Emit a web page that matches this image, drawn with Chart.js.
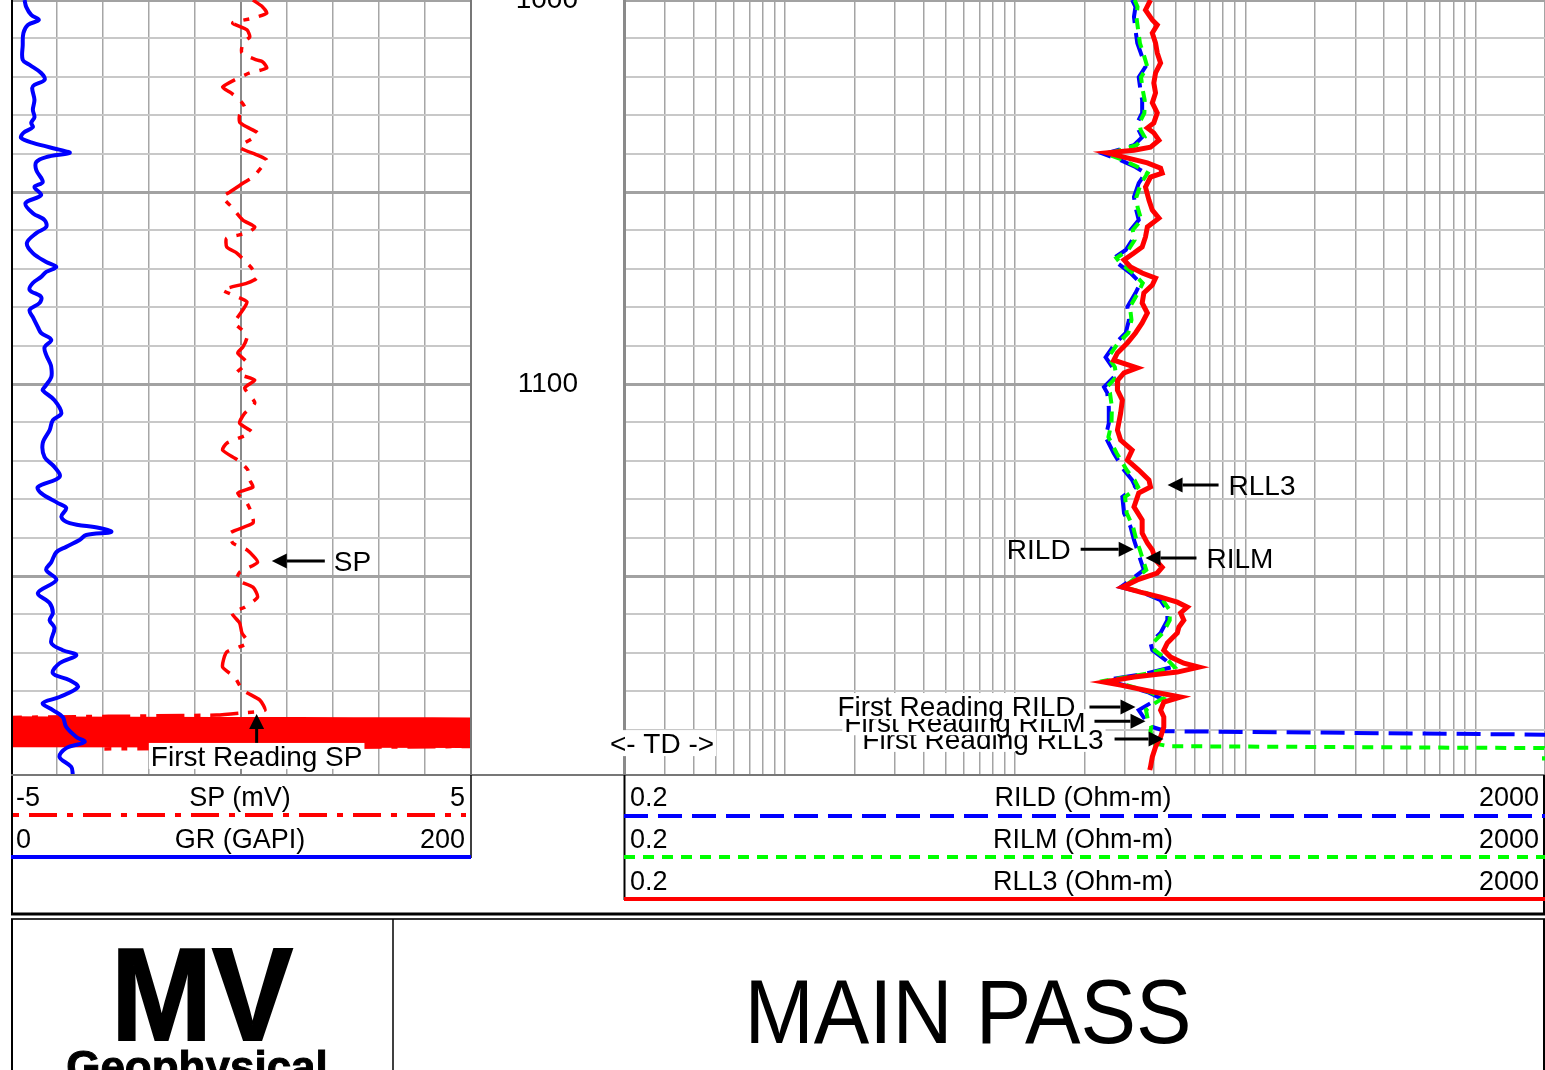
<!DOCTYPE html>
<html>
<head>
<meta charset="utf-8">
<title>MAIN PASS</title>
<script src="https://cdn.jsdelivr.net/npm/chart.js@4.4.1/dist/chart.umd.min.js"></script>
<style>
  html, body { margin: 0; padding: 0; background: #fff; }
  #page { position: relative; width: 1545px; height: 1070px; overflow: hidden; background: #fff; }
  canvas { position: absolute; top: 0; }
  #frame { position: absolute; left: 0; top: 0; pointer-events: none; }
</style>
</head>
<body>
<div id="page">
  <canvas id="leftTrack" width="460" height="775" style="left:11px"></canvas>
  <canvas id="rightTrack" width="1074" height="775" style="left:471px"></canvas>

  <svg id="frame" width="1545" height="1070" xmlns="http://www.w3.org/2000/svg"
       font-family="'Liberation Sans', Arial, sans-serif" fill="#000">
    <!-- track frame -->
    <line x1="12" y1="0" x2="12" y2="915" stroke="#000" stroke-width="2"/>
    <line x1="471" y1="0" x2="471" y2="775" stroke="#777" stroke-width="2"/>
    <line x1="11" y1="775" x2="1545" y2="775" stroke="#777" stroke-width="2"/>

    <!-- curve legends, left track -->
    <line x1="471" y1="775" x2="471" y2="858" stroke="#000" stroke-width="1.5"/>
    <text x="16" y="805.5" font-size="27">-5</text>
    <text x="240" y="805.5" font-size="27" text-anchor="middle">SP (mV)</text>
    <text x="465" y="805.5" font-size="27" text-anchor="end">5</text>
    <line x1="13" y1="815" x2="466" y2="815" stroke="#ff0000" stroke-width="4" stroke-dasharray="6 10 28 10"/>
    <text x="16" y="847.5" font-size="27">0</text>
    <text x="240" y="847.5" font-size="27" text-anchor="middle">GR (GAPI)</text>
    <text x="465" y="847.5" font-size="27" text-anchor="end">200</text>
    <line x1="11" y1="857" x2="471" y2="857" stroke="#0000ff" stroke-width="4"/>

    <!-- curve legends, right track -->
    <line x1="624.5" y1="775" x2="624.5" y2="900" stroke="#000" stroke-width="2"/>
    <line x1="1544" y1="775" x2="1544" y2="915" stroke="#000" stroke-width="2"/>
    <text x="630" y="805.5" font-size="27">0.2</text>
    <text x="1083" y="805.5" font-size="27" text-anchor="middle">RILD (Ohm-m)</text>
    <text x="1539" y="805.5" font-size="27" text-anchor="end">2000</text>
    <line x1="624" y1="816" x2="1545" y2="816" stroke="#0000ff" stroke-width="4" stroke-dasharray="24 10"/>
    <text x="630" y="847.5" font-size="27">0.2</text>
    <text x="1083" y="847.5" font-size="27" text-anchor="middle">RILM (Ohm-m)</text>
    <text x="1539" y="847.5" font-size="27" text-anchor="end">2000</text>
    <line x1="624" y1="857" x2="1545" y2="857" stroke="#00ff00" stroke-width="4" stroke-dasharray="11 8"/>
    <text x="630" y="889.5" font-size="27">0.2</text>
    <text x="1083" y="889.5" font-size="27" text-anchor="middle">RLL3 (Ohm-m)</text>
    <text x="1539" y="889.5" font-size="27" text-anchor="end">2000</text>
    <line x1="624" y1="899" x2="1545" y2="899" stroke="#ff0000" stroke-width="4"/>

    <line x1="11" y1="914" x2="1545" y2="914" stroke="#000" stroke-width="3"/>

    <!-- title block -->
    <line x1="11" y1="919" x2="1545" y2="919" stroke="#333" stroke-width="2"/>
    <line x1="12" y1="919" x2="12" y2="1070" stroke="#000" stroke-width="2"/>
    <line x1="393" y1="919" x2="393" y2="1070" stroke="#000" stroke-width="1.5"/>
    <line x1="1544" y1="919" x2="1544" y2="1070" stroke="#000" stroke-width="2"/>
    <text x="202" y="1040" font-size="132" font-weight="bold" text-anchor="middle"
          stroke="#000" stroke-width="2"
          transform="translate(202 0) scale(0.92 1) translate(-202 0)">MV</text>
    <text x="197" y="1082" font-size="44" font-weight="bold" text-anchor="middle"
          stroke="#000" stroke-width="1">Geophysical</text>
    <text x="968" y="1043" font-size="90" text-anchor="middle"
          transform="translate(968 0) scale(0.925 1) translate(-968 0)">MAIN PASS</text>
  </svg>
</div>

<script>
// ---------------- depth window ----------------
const depthTop = 1000;
const depthBottom = 1201.8;
const depthLabels = [1000, 1100, 1200];
const tdDepth = 1193.5;

// ---------------- GR (GAPI), track 1 ----------------
const grDepth = [
  1000.0,1001.8,1003.9,1005.2,1006.5,1008.6,1011.7,1015.6,1016.9,1019.0,
  1020.8,1022.1,1022.9,1026.0,1028.6,1030.5,1032.0,1033.1,1034.6,1035.9,
  1037.2,1039.1,1039.8,1040.9,1042.2,1044.3,1047.4,1048.7,1050.8,1052.9,
  1055.5,1057.3,1059.1,1060.7,1063.3,1065.9,1068.2,1069.5,1070.8,1072.1,
  1073.7,1075.5,1077.3,1078.9,1080.7,1082.6,1085.2,1086.7,1088.5,1090.4,
  1092.4,1094.3,1095.6,1098.2,1100.8,1101.6,1104.2,1107.6,1109.4,1112.0,
  1115.4,1119.0,1121.6,1124.2,1126.8,1128.4,1131.0,1132.3,1134.6,1136.2,
  1137.5,1138.5,1139.3,1140.6,1142.4,1143.8,1146.4,1148.4,1151.0,1154.4,
  1157.0,1159.6,1161.5,1163.5,1167.4,1169.3,1170.6,1172.7,1175.3,1177.1,
  1178.9,1181.5,1183.1,1184.9,1186.7,1189.3,1191.9,1193.2,1194.8,1197.1,
  1199.7,1201.8
];
const grValue = [
  5.9,6.6,8.8,12.1,7.3,5.4,5.1,5.1,8.1,13.1,
  14.6,10.2,9.2,10.2,9.5,10.2,8.8,9.5,5.4,4.4,
  9.5,21.9,25.5,15.3,11.0,11.0,13.8,10.2,13.1,6.3,
  9.5,14.6,15.3,11.0,6.9,9.5,15.3,19.7,15.3,13.1,
  9.5,8.1,13.1,12.4,8.1,9.5,11.7,13.1,17.5,14.6,
  15.3,16.8,17.5,17.5,14.6,13.8,18.9,21.9,18.2,16.8,
  13.8,14.6,18.9,21.1,11.7,13.1,20.4,24.0,21.9,25.5,
  38.5,43.6,32.7,29.8,24.0,19.7,17.5,15.3,19.7,11.7,
  16.8,18.2,16.8,18.9,17.5,22.5,28.4,21.1,18.2,25.5,
  29.1,21.1,13.8,18.2,22.5,24.0,28.4,32.0,24.0,21.1,
  26.2,26.9
];

// ---------------- SP (mV), track 1 (noisy swing below first reading) ----------------
const spDepth = [
  1000.0,1001.8,1003.4,1004.7,1006.0,1007.8,1009.6,1011.2,1013.8,1015.6,
  1016.1,1017.7,1019.0,1020.8,1022.7,1024.0,1026.0,1027.9,1029.9,1031.8,
  1033.1,1034.6,1035.9,1038.3,1040.4,1041.7,1043.5,1046.1,1047.7,1050.0,
  1051.3,1053.9,1057.3,1059.1,1060.7,1062.0,1064.3,1065.9,1068.5,1069.8,
  1072.4,1073.7,1075.5,1076.8,1078.6,1080.7,1084.1,1085.9,1087.8,1090.4,
  1091.9,1094.5,1097.1,1099.0,1101.0,1104.9,1107.6,1110.2,1112.5,1115.4,
  1117.2,1119.8,1122.4,1125.0,1126.8,1128.4,1131.0,1133.6,1136.2,1138.8,
  1141.4,1143.2,1146.4,1149.0,1151.0,1152.9,1155.5,1158.1,1159.6,1162.2,
  1164.8,1167.4,1169.8,1173.7,1176.3,1179.7,1182.3,1184.9,1185.7,1186.2,
  1186.9,1187.3,1187.7,1188.1,1188.5,1188.9,1189.3,1189.7,1190.1,1190.5,
  1190.9,1191.3,1191.7,1192.1,1192.5,1192.9,1193.3,1193.7,1194.1,1194.3,
  1195.0
];
const spValue = [
  0.26,0.47,0.56,0.26,-0.18,0.13,0.19,0.04,0.02,0.34,
  0.47,0.56,0.19,-0.14,-0.40,-0.24,-0.03,0.08,-0.03,-0.03,
  0.13,0.36,0.26,-0.03,0.36,0.56,0.45,0.26,0.04,-0.24,
  -0.40,-0.20,0.04,0.30,0.13,-0.31,-0.31,-0.09,0.13,0.23,
  0.34,0.13,-0.40,-0.18,0.13,0.04,-0.14,0.02,0.13,0.04,
  -0.07,0.13,-0.09,0.30,0.08,0.30,0.08,-0.03,0.23,-0.31,
  -0.40,-0.07,0.15,0.19,0.26,-0.07,0.13,0.23,0.26,-0.24,
  -0.18,0.13,0.36,-0.03,-0.09,0.26,0.36,0.08,-0.20,-0.03,
  0.02,0.15,-0.31,-0.40,-0.14,0.04,0.41,0.52,-0.03,-0.53,
  -5.4,5.4,-5.4,5.4,-5.4,5.4,-5.4,5.4,-5.4,5.4,
  -5.4,5.4,-5.4,5.4,-5.4,5.4,-5.4,5.4,-5.4,5.4,
  -2.97
];

// ---------------- resistivity (Ohm-m), track 2 ----------------
const rll3Depth = [
  1000.0,1002.6,1005.2,1006.5,1008.6,1011.2,1013.8,1016.4,1019.0,1021.6,
  1024.2,1026.8,1029.4,1032.0,1033.3,1034.6,1036.5,1038.3,1039.1,1039.8,
  1040.9,1042.4,1043.8,1045.1,1046.1,1048.7,1052.1,1054.7,1056.8,1059.1,
  1061.7,1064.3,1065.9,1067.7,1069.5,1071.1,1072.4,1074.2,1076.3,1078.9,
  1081.5,1084.1,1086.7,1089.3,1091.9,1093.8,1095.8,1097.1,1099.0,1101.6,
  1104.2,1107.6,1112.0,1114.6,1117.2,1119.8,1122.4,1125.0,1126.8,1128.4,
  1132.0,1135.4,1138.8,1141.4,1143.2,1145.8,1147.7,1149.2,1151.0,1152.9,
  1154.2,1155.5,1156.8,1158.1,1159.6,1161.5,1163.3,1164.8,1167.4,1169.3,
  1171.1,1172.7,1173.7,1175.0,1176.3,1177.6,1178.4,1180.2,1181.5,1182.8,
  1184.9,1186.7,1189.3,1191.9,1194.5,1197.1,1199.7,1200.5
];
const rll3Value = [
  38.7,36.8,39.4,41.4,39.4,40.7,41.4,42.8,40.7,40.0,
  40.7,39.4,41.4,40.0,37.5,40.0,42.1,38.7,32.8,25.1,
  29.7,37.5,42.8,43.5,38.7,36.8,38.1,39.4,42.1,37.5,
  36.8,35.6,32.8,29.7,31.7,35.6,40.7,39.4,36.2,35.6,
  37.5,35.6,33.3,30.7,27.8,26.8,33.9,29.7,27.9,27.8,
  29.2,28.7,27.8,28.7,32.2,30.7,34.4,38.1,38.7,34.4,
  32.8,35.6,35.6,37.5,39.4,40.7,43.5,41.4,33.9,29.2,
  35.0,42.8,50.6,55.9,52.3,54.0,51.4,50.6,45.8,44.2,
  47.3,54.0,62.8,50.6,32.8,24.3,28.7,40.0,52.3,44.2,
  42.8,44.2,44.2,42.8,40.7,39.4,38.7,38.4
];

const rildDepth = [
  1000.0,1001.8,1004.4,1007.8,1011.2,1014.8,1017.4,1020.1,1023.4,1026.0,
  1029.4,1032.0,1033.9,1035.7,1037.8,1039.1,1040.1,1041.7,1043.5,1045.1,
  1047.7,1051.3,1053.9,1057.3,1059.9,1062.5,1065.1,1067.2,1068.5,1071.1,
  1073.7,1076.3,1079.9,1083.3,1086.7,1089.3,1093.0,1095.6,1098.2,1100.8,
  1102.3,1106.0,1110.2,1113.8,1118.0,1122.4,1125.0,1126.8,1129.4,1133.6,
  1137.2,1140.6,1143.2,1145.8,1148.4,1151.0,1152.9,1154.4,1156.3,1158.9,
  1161.5,1164.8,1167.4,1169.3,1171.9,1173.7,1175.3,1177.1,1178.4,1180.2,
  1181.8,1183.1,1184.9,1187.5,1189.3,1190.4,1191.3
];
const rildValue = [
  32.2,33.3,32.8,33.3,33.9,35.6,36.8,34.4,35.0,35.6,
  35.6,33.9,34.4,35.6,32.8,27.8,24.3,28.7,33.3,36.8,
  34.4,32.8,33.3,34.4,31.7,32.2,30.2,26.8,27.8,31.7,
  35.0,33.3,30.7,31.2,30.2,27.3,24.7,26.4,26.8,24.3,
  25.1,25.5,25.5,24.7,26.8,29.7,32.2,33.3,29.2,29.7,
  31.7,32.8,33.9,35.0,36.2,31.7,28.7,36.2,42.8,45.8,
  45.8,42.8,38.7,39.4,45.0,48.1,37.5,24.7,29.7,37.5,
  42.8,38.7,34.4,36.8,39.4,45.0,2100
];

const rilmDepth = [
  1000.0,1001.8,1004.4,1007.8,1011.2,1014.8,1017.4,1020.1,1023.4,1026.0,
  1029.4,1032.0,1033.9,1035.7,1037.8,1039.1,1040.1,1041.7,1043.5,1045.1,
  1047.7,1051.3,1053.9,1057.3,1059.9,1062.5,1065.1,1067.2,1068.5,1071.1,
  1073.7,1076.3,1079.9,1083.3,1086.7,1089.3,1093.0,1095.6,1098.2,1100.8,
  1102.3,1106.0,1110.2,1113.8,1118.0,1122.4,1125.0,1126.8,1129.4,1133.6,
  1137.2,1140.6,1143.2,1145.8,1148.4,1151.0,1152.9,1154.4,1156.3,1158.9,
  1161.5,1164.8,1167.4,1169.3,1171.9,1173.7,1175.3,1177.1,1178.4,1180.2,
  1181.8,1183.1,1184.9,1187.5,1189.3,1190.3,1193.5,1194.3,1194.8,1198.0
];
const rilmValue = [
  33.0,34.0,33.6,34.2,34.8,36.4,37.5,35.2,35.8,36.5,
  36.4,34.6,35.1,36.5,33.6,28.6,25.1,29.5,34.1,37.6,
  35.2,33.6,34.0,35.3,32.4,33.0,31.0,27.5,28.6,32.5,
  35.8,34.1,31.5,32.0,31.0,28.0,25.4,27.1,27.5,25.0,
  25.8,26.3,26.2,25.4,27.6,30.5,33.0,34.2,30.0,30.5,
  32.5,33.6,34.8,35.9,37.1,32.5,29.5,37.0,43.8,46.9,
  46.9,43.8,39.6,40.3,46.0,49.2,38.4,25.4,30.5,38.4,
  43.8,40.5,37.0,37.7,39.0,38.7,39.4,46.5,1980,1980
];

// ---------------- log grid: decades x multipliers ----------------
const resDecades = [0.1, 1, 10, 100, 1000];
const resMultipliers = [1, 2, 3, 4, 5, 6, 7, 8, 9];

// ---------------- curve call-outs ----------------
const track1Notes = [
  { text: 'SP', value: 0.67, depth: 1146.1, len: 53, gap: 9 },
  { text: 'First Reading SP', value: 0.34, depth: 1185.9, len: 29, vertical: true, dy: 42, box: true }
];
const track2Notes = [
  { text: 'RLL3', value: 45.9, depth: 1126.3, len: 51, gap: 10 },
  { text: 'RILD', value: 32.7, depth: 1143.0, len: -53, gap: 10 },
  { text: 'RILM', value: 36.8, depth: 1145.3, len: 51, gap: 10 },
  { text: 'First Reading RLL3', value: 44.1, depth: 1192.4, len: -49, gap: 11, box: true, dy: 0 },
  { text: 'First Reading RILM', value: 36.8, depth: 1187.8, len: -51, gap: 9, box: true, dy: 1 },
  { text: 'First Reading RILD', value: 33.3, depth: 1184.1, len: -46, gap: 14, box: true, dy: -1 }
];

// ================= drawing =================
const FONT = '"Liberation Sans", Arial, sans-serif';
Chart.defaults.font.family = FONT;

const pts = (d, v) => d.map((y, i) => ({ x: v[i], y }));
const resGrid = [];
resDecades.forEach(dec => resMultipliers.forEach(m => {
  const v = +(dec * m).toPrecision(3);
  if (v >= 0.2 && v <= 2000) resGrid.push(v);
}));

const isMajorDepth = v => Math.abs(v % 50) < 1e-6;
const depthAxis = (extra) => Object.assign({
  type: 'linear',
  reverse: true,
  min: depthTop,
  max: depthBottom,
  ticks: { stepSize: 10, display: false, autoSkip: false },
  grid: {
    drawTicks: false,
    color: c => (c.tick && isMajorDepth(c.tick.value)) ? '#a2a2a2' : '#c8c8c8',
    lineWidth: c => (c.tick && isMajorDepth(c.tick.value)) ? 3 : 2
  },
  border: { display: false },
  afterFit: s => { s.width = 0; s.paddingTop = 0; s.paddingBottom = 0; }
}, extra || {});

function drawArrow(ctx, tx, ty, fx, fy) {
  const a = Math.atan2(ty - fy, tx - fx);
  const hl = 15, hw = 7.5;
  const bx = tx - hl * Math.cos(a), by = ty - hl * Math.sin(a);
  ctx.beginPath();
  ctx.moveTo(fx, fy);
  ctx.lineTo(bx, by);
  ctx.lineWidth = 3;
  ctx.strokeStyle = '#000';
  ctx.stroke();
  ctx.beginPath();
  ctx.moveTo(tx, ty);
  ctx.lineTo(bx - hw * Math.sin(a), by + hw * Math.cos(a));
  ctx.lineTo(bx + hw * Math.sin(a), by - hw * Math.cos(a));
  ctx.closePath();
  ctx.fillStyle = '#000';
  ctx.fill();
}

function labelAt(ctx, text, x, yc, align, box) {
  ctx.font = '28px ' + FONT;
  ctx.textAlign = align;
  ctx.textBaseline = 'alphabetic';
  const w = ctx.measureText(text).width;
  const left = align === 'left' ? x : align === 'right' ? x - w : x - w / 2;
  if (box) {
    ctx.fillStyle = '#fff';
    ctx.fillRect(left - 2, yc - 13, w + 4, 26);
  }
  ctx.fillStyle = '#000';
  ctx.fillText(text, x, yc + 10);
}

function calloutPlugin(notes, xId, extra) {
  return {
    id: 'callouts',
    afterDraw(chart) {
      const ctx = chart.ctx;
      const xs = chart.scales[xId], ys = chart.scales.y;
      ctx.save();
      notes.forEach(n => {
        const tx = xs.getPixelForValue(n.value);
        const ty = ys.getPixelForValue(n.depth);
        if (n.vertical) {
          drawArrow(ctx, tx, ty, tx, ty + n.len);
          labelAt(ctx, n.text, tx, ty + n.dy, 'center', n.box);
        } else {
          const fx = tx + n.len;
          drawArrow(ctx, tx, ty, fx, ty);
          const dir = Math.sign(n.len);
          labelAt(ctx, n.text, fx + dir * n.gap, ty + (n.dy || 0), dir > 0 ? 'left' : 'right', n.box);
        }
      });
      if (extra) extra(chart, ctx);
      ctx.restore();
    }
  };
}

// ---- track 1: SP / GR ----
new Chart(document.getElementById('leftTrack'), {
  type: 'scatter',
  data: {
    datasets: [
      {
        label: 'GR', data: pts(grDepth, grValue), xAxisID: 'xgr',
        showLine: true, borderColor: '#0000ff', borderWidth: 4, tension: 0.35,
        pointRadius: 0, pointHoverRadius: 0
      },
      {
        label: 'SP', data: pts(spDepth, spValue), xAxisID: 'x',
        showLine: true, borderColor: '#ff0000', borderWidth: 3.5, tension: 0.2,
        borderDash: [28, 10, 6, 10], pointRadius: 0, pointHoverRadius: 0,
        segment: {
          borderDash: c => (Math.abs(c.p0.parsed.x) > 5 && Math.abs(c.p1.parsed.x) > 5) ? [] : undefined
        }
      }
    ]
  },
  options: {
    responsive: false, devicePixelRatio: 1, animation: false,
    layout: { padding: 0 },
    plugins: { legend: { display: false }, tooltip: { enabled: false } },
    scales: {
      x: {
        type: 'linear', position: 'bottom', min: -5, max: 5,
        ticks: { stepSize: 1, display: false },
        grid: {
          drawTicks: false,
          color: c => (c.tick && c.tick.value === 0) ? '#8a8a8a' : '#a6a6a6',
          lineWidth: c => (c.tick && c.tick.value === 0) ? 2 : 1.5
        },
        border: { display: false },
        afterFit: s => { s.height = 0; s.paddingLeft = 0; s.paddingRight = 0; }
      },
      xgr: { type: 'linear', display: false, min: 0, max: 200 },
      y: depthAxis()
    }
  },
  plugins: [calloutPlugin(track1Notes, 'x')]
});

// ---- track 2: resistivity, with depth column on its left ----
new Chart(document.getElementById('rightTrack'), {
  type: 'scatter',
  data: {
    datasets: [
      {
        label: 'RLL3', data: pts(rll3Depth, rll3Value),
        showLine: true, borderColor: '#ff0000', borderWidth: 5, tension: 0,
        pointRadius: 0, pointHoverRadius: 0
      },
      {
        label: 'RILM', data: pts(rilmDepth, rilmValue),
        showLine: true, borderColor: '#00ff00', borderWidth: 4, tension: 0,
        borderDash: [11, 8], pointRadius: 0, pointHoverRadius: 0
      },
      {
        label: 'RILD', data: pts(rildDepth, rildValue),
        showLine: true, borderColor: '#0000ff', borderWidth: 4, tension: 0,
        borderDash: [24, 10], pointRadius: 0, pointHoverRadius: 0
      }
    ]
  },
  options: {
    responsive: false, devicePixelRatio: 1, animation: false,
    layout: { padding: 0 },
    plugins: { legend: { display: false }, tooltip: { enabled: false } },
    scales: {
      x: {
        type: 'logarithmic', position: 'bottom', min: 0.2, max: 2000,
        ticks: { display: false },
        afterBuildTicks: s => { s.ticks = resGrid.map(v => ({ value: v })); },
        grid: { drawTicks: false, color: '#a4a4a4', lineWidth: 1.5 },
        border: { display: false },
        afterFit: s => { s.height = 0; s.paddingLeft = 0; s.paddingRight = 0; }
      },
      y: depthAxis({
        position: 'left',
        ticks: {
          stepSize: 10, autoSkip: false, display: true, padding: 46,
          color: '#000', font: { size: 28, family: FONT },
          callback: v => depthLabels.some(d => Math.abs(d - v) < 1e-6) ? String(v) : ''
        },
        border: { display: true, color: '#8a8a8a', width: 3 },
        afterFit: s => { s.width = 153; s.paddingTop = 0; s.paddingBottom = 0; }
      })
    }
  },
  plugins: [calloutPlugin(track2Notes, 'x', (chart, ctx) => {
    const y = chart.scales.y.getPixelForValue(tdDepth);
    labelAt(ctx, '<- TD ->', chart.chartArea.left + 38, y, 'center', true);
  })]
});
</script>
</body>
</html>
